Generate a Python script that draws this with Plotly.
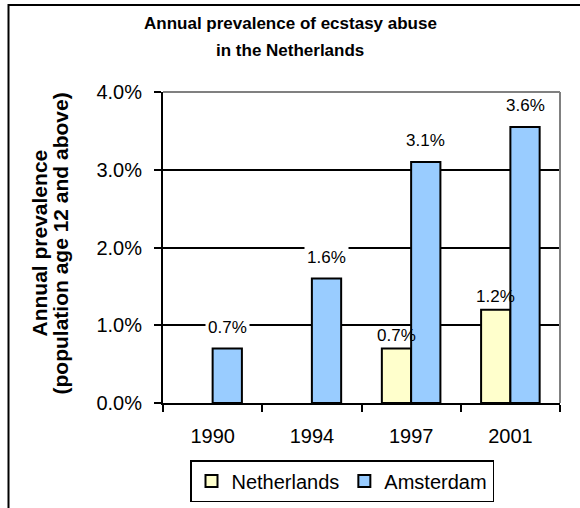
import plotly.graph_objects as go

years = ["1990", "1994", "1997", "2001"]
netherlands = [None, None, 0.7, 1.2]
amsterdam = [0.7, 1.6, 3.1, 3.55]
nl_labels = [None, None, "0.7%", "1.2%"]
ams_labels = ["0.7%", "1.6%", "3.1%", "3.6%"]
y_ticks = [0, 1, 2, 3, 4]
y_tick_text = [f"{v:.1f}%" for v in y_ticks]
title_lines = ["Annual prevalence of ecstasy abuse", "in the Netherlands"]
y_title_lines = ["Annual prevalence", "(population age 12 and above)"]

FONT = "Liberation Sans, Arial, sans-serif"
BARGAP = 0.41
W, H = 580, 508
ML, MR, MT, MB = 163, 20, 92, 105
pw = W - ML - MR
ph = H - MT - MB


def px_x(px):
    return (px - ML) / pw


def px_y(py):
    return (H - MB - py) / ph


fig = go.Figure()
fig.add_trace(go.Bar(
    x=years, y=netherlands, name="Netherlands",
    marker=dict(color="#FFFFCC", line=dict(color="black", width=2)),
))
fig.add_trace(go.Bar(
    x=years, y=amsterdam, name="Amsterdam",
    marker=dict(color="#99CCFF", line=dict(color="black", width=2)),
))

half = (1 - BARGAP) / 4
annotations = []
for i, (v, t) in enumerate(zip(netherlands, nl_labels)):
    if v is None:
        continue
    annotations.append(dict(x=i - half, y=v, xref="x", yref="y", text=t,
                            showarrow=False, yanchor="bottom", yshift=2,
                            font=dict(family=FONT, size=17, color="black")))
for i, (v, t) in enumerate(zip(amsterdam, ams_labels)):
    annotations.append(dict(x=i + half, y=v, xref="x", yref="y", text=t,
                            showarrow=False, yanchor="bottom", yshift=9,
                            bgcolor="white", borderpad=2,
                            font=dict(family=FONT, size=17, color="black")))
# chart title (two lines)
for line, cy in zip(title_lines, [24, 51]):
    annotations.append(dict(x=px_x(290), y=px_y(cy), xref="paper", yref="paper",
                            text=f"<b>{line}</b>", showarrow=False,
                            xanchor="center", yanchor="middle",
                            font=dict(family=FONT, size=17, color="black")))
# y-axis title (two lines)
for line, cx in zip(y_title_lines, [39, 60]):
    annotations.append(dict(x=px_x(cx), y=px_y(243.5), xref="paper", yref="paper",
                            text=f"<b>{line}</b>", textangle=-90, showarrow=False,
                            xanchor="center", yanchor="middle",
                            font=dict(family=FONT, size=21, color="black")))

shapes = [
    dict(type="rect", xref="paper", yref="paper",
         x0=px_x(8.5), x1=2, y0=-2, y1=px_y(5),
         line=dict(color="black", width=2), layer="below"),
    dict(type="line", xref="paper", yref="paper", x0=0, x1=1, y0=1, y1=1,
         line=dict(color="#808080", width=2), layer="above"),
    dict(type="line", xref="paper", yref="paper", x0=1, x1=1, y0=0, y1=1,
         line=dict(color="#808080", width=2), layer="above"),
]

fig.update_layout(
    width=W, height=H,
    margin=dict(l=ML, r=MR, t=MT, b=MB, autoexpand=False),
    paper_bgcolor="white", plot_bgcolor="white",
    font=dict(family=FONT, color="black"),
    barmode="group", bargap=BARGAP, bargroupgap=0,
    showlegend=True,
    legend=dict(orientation="h", x=px_x(190), xanchor="left",
                y=px_y(460), yanchor="top",
                bordercolor="black", borderwidth=1.5, bgcolor="white",
                font=dict(family=FONT, size=20, color="black"),
                itemwidth=30, tracegroupgap=0),
    annotations=annotations,
    shapes=shapes,
)
fig.update_xaxes(type="category", automargin=False, showgrid=False, showline=True,
                 linecolor="black", linewidth=2, ticks="outside",
                 tickson="boundaries", ticklen=7, tickwidth=1.5, tickcolor="black",
                 ticklabelstandoff=14,
                 tickfont=dict(family=FONT, size=20, color="black"))
fig.update_yaxes(range=[0, 4], automargin=False, tickvals=y_ticks,
                 ticktext=y_tick_text,
                 showgrid=True, gridcolor="black", gridwidth=1.5, zeroline=False,
                 showline=True, linecolor="black", linewidth=2,
                 ticks="outside", ticklen=7, tickwidth=1.5, tickcolor="black",
                 ticklabelstandoff=8,
                 tickfont=dict(family=FONT, size=20, color="black"))

fig.write_html("out.html", config={"displayModeBar": False},
               post_script="document.body.style.margin='0px';document.body.style.overflow='hidden';")
